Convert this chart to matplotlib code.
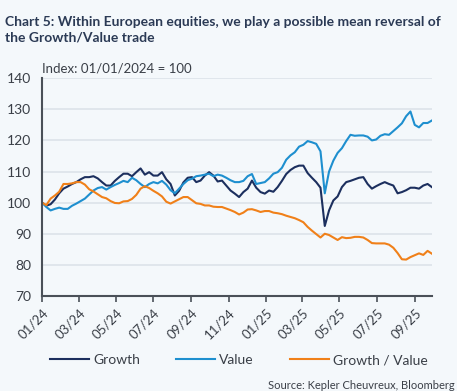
import pandas as pd
import matplotlib
matplotlib.use("Agg")
import matplotlib.pyplot as plt
import matplotlib.dates as mdates

plt.rcParams['font.family'] = ['Lato', 'DejaVu Sans']

# --- Data (weekly readings, index 01/01/2024 = 100) ---
dates = pd.date_range("2024-01-01", periods=92, freq="7D")

growth = [
    100, 99, 99.5, 101, 103, 104.5, 105.2, 106, 106.6, 107.5,
    108.2, 108.2, 108.5, 107.8, 106.6, 105.5, 105.5, 107, 108.2, 109.3,
    109.3, 108.5, 109.8, 111, 109, 109.8, 108.7, 108.7, 109.8, 107.5,
    106, 102.3, 103.8, 106.5, 108, 108.2, 106.6, 107.1, 108.7, 109.8,
    108.7, 106.8, 107.1, 105.5, 103.9, 102.9, 101.8, 103.4, 104.5, 107.1,
    104.8, 103.4, 102.9, 103.9, 103.5, 105, 107, 109.2, 110.5, 111.4,
    111.9, 111.9, 109.5, 108, 106.6, 104.8, 92.5, 97.5, 100.7, 102,
    105, 106.6, 107, 107.5, 108, 108.2, 106, 104.5, 105.3, 106,
    106.6, 106, 105.5, 103, 103.4, 104, 104.8, 104.8, 104.5, 105.5,
    106, 105,
]

value = [
    100, 98.6, 97.5, 98, 98.4, 98, 98, 99, 99.7, 100.5,
    101.3, 102.6, 103.9, 104.7, 105, 104.2, 105, 105.7, 106.3, 107,
    106.6, 108, 107.2, 106, 105, 106, 106.6, 106.2, 107, 105.8,
    104, 103, 104.5, 106, 107.2, 107.7, 108.5, 108.7, 109, 109.3,
    108.5, 109, 108.7, 108, 107.2, 106.6, 106.6, 107, 108.5, 109.2,
    106, 106.3, 106.6, 107.8, 109.3, 109.8, 111.2, 113.8, 115.2, 116.2,
    118, 118.6, 119.8, 119.4, 118.9, 116.5, 103, 110, 113.5, 116,
    117.5, 119.8, 121.8, 121.5, 121.6, 121.6, 121.2, 120, 120.3, 121.5,
    122, 121.8, 123, 124.2, 125.5, 127.8, 129.3, 125, 124.2, 125.6,
    125.6, 126.4,
]

growth_value = [
    100, 99.2, 101.3, 102.3, 103.5, 106, 106, 106.2, 106.6, 106.6,
    105.8, 104.3, 103.6, 102.7, 101.8, 101.4, 100.5, 99.9, 99.8, 100.4,
    100.5, 101.2, 102.5, 104.5, 105.3, 104.7, 103.8, 103, 102, 100.3,
    99.7, 100.4, 101.1, 101.8, 101.8, 100.8, 99.8, 99.6, 99.1, 99.1,
    98.7, 98.6, 98.6, 98.1, 97.6, 97, 96.2, 96.8, 97.8, 97.9,
    97.5, 97, 97.3, 97.3, 96.8, 96.6, 96.3, 95.8, 95.4, 95,
    94.4, 93.7, 92.2, 91, 89.9, 88.8, 90, 89.6, 88.8, 88,
    88.9, 88.6, 88.7, 89, 89, 88.8, 88, 87, 86.9, 86.9,
    86.9, 86.5, 85.5, 83.8, 81.8, 81.7, 82.5, 83.1, 83.7, 83.2,
    84.5, 83.6,
]

series_names = ["Growth", "Value", "Growth / Value"]
series_colors = ["#1c2f5e", "#1e8fcf", "#f08019"]

BG = "#f4f8fb"
TXT = "#3a3f47"

fig = plt.figure(figsize=(4.57, 3.91), dpi=100, facecolor=BG)
ax = fig.add_axes([0.092, 0.243, 0.853, 0.557], facecolor=BG)

for vals, name, col in zip([growth, value, growth_value], series_names, series_colors):
    ax.plot(dates, vals, color=col, lw=1.5, label=name)

ax.set_ylim(70, 140)
ax.set_yticks(range(70, 141, 10))
ax.set_xlim(dates[0], dates[-1])

ticks = pd.date_range("2024-01-01", "2025-09-01", freq="2MS")
ax.set_xticks(ticks)
ax.xaxis.set_major_formatter(mdates.DateFormatter("%m/%y"))
plt.setp(ax.get_xticklabels(), rotation=45, ha="right", rotation_mode="anchor")

ax.grid(axis="y", color="#dde3ea", lw=1.2)
ax.set_axisbelow(True)
for s in ["top", "right"]:
    ax.spines[s].set_visible(False)
for s in ["left", "bottom"]:
    ax.spines[s].set_color("#4a5058")
    ax.spines[s].set_linewidth(1.5)

ax.tick_params(axis="y", length=0, labelsize=10, colors=TXT, pad=8)
ax.tick_params(axis="x", length=4, width=1.2, color="#4a5058", labelsize=9.5, labelcolor=TXT)

ax.text(0.0, 1.015, "Index: 01/01/2024 = 100", transform=ax.transAxes,
        fontsize=9.5, color=TXT, ha="left", va="bottom")

fig.text(0.012, 0.958, "Chart 5: Within European equities, we play a possible mean reversal of\nthe Growth/Value trade",
         fontsize=10, fontweight="bold", color="#2b3a55", ha="left", va="top", linespacing=1.35)

ax.legend(loc="upper left", bbox_to_anchor=(-0.012, -0.21), ncol=3, frameon=False,
          fontsize=10, handlelength=2.8, columnspacing=2.6, handletextpad=0.3,
          labelcolor=TXT)

fig.text(0.995, 0.0, "Source: Kepler Cheuvreux, Bloomberg", fontsize=8,
         color=TXT, ha="right", va="bottom")

fig.savefig("out.png", dpi=100, facecolor=BG)
